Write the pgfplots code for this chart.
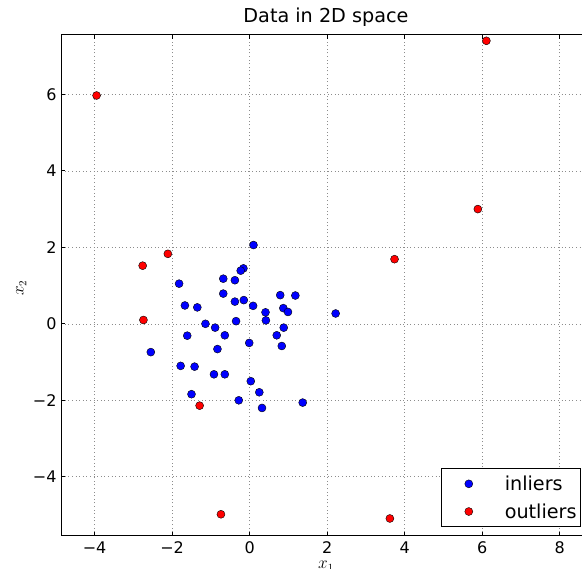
\documentclass[border=0pt]{standalone}
\usepackage{pgfplots}
\pgfplotsset{compat=1.18}
\usepackage{fontspec}
\setmainfont{DejaVu Sans}
\begin{document}
\begin{tikzpicture}
\begin{axis}[
  at={(61.3pt,33.3pt)}, anchor=south west,
  scale only axis, width=529.3pt, height=501pt,
  xmin=-4.86, xmax=8.80, ymin=-5.54, ymax=7.56,
  xtick={-4,-2,0,2,4,6,8}, xticklabels={−4,−2,0,2,4,6,8},
  ytick={-4,-2,0,2,4,6}, yticklabels={−4,−2,0,2,4,6},
  tick align=inside, major tick length=4pt,
  tick style={black, line width=0.8pt},
  axis line style={line width=1.2pt},
  grid=major,
  major grid style={black!45, line width=0.6pt, dash pattern=on 0.8pt off 2.8pt},
  ticklabel style={font=\fontsize{16}{16}\selectfont},
  xticklabel style={anchor=base, yshift=-18.3pt},
  yticklabel style={anchor=east, inner sep=0pt, text height=11.7pt, text depth=0pt, xshift=-4.6pt},
  title={Data in 2D space},
  title style={at={(0.5,1)}, anchor=base, yshift=6.4pt, font=\fontsize{19.2}{19.2}\selectfont},
  xlabel={$x_1$}, ylabel={$x_2$},
  xlabel style={at={(axis description cs:0.5,0)}, anchor=base, yshift=-33.3pt, font=\fontsize{16}{16}\selectfont},
  ylabel style={at={(axis description cs:-0.0756,0.494)}, anchor=center, font=\fontsize{16}{16}\selectfont},
  legend style={at={(0.982,0.0174)}, anchor=south east, draw=black, line width=0.9pt,
    inner xsep=4pt, inner ysep=5pt, row sep=7.7pt, fill=white,
    font=\fontsize{19.2}{19.2}\selectfont,
    nodes={inner sep=0pt, text height=16.5pt, text depth=3.5pt}},
  legend cell align=left,
  legend image code/.code={\path[draw=none, fill=none] (0pt,-10pt) rectangle (59pt,10pt); \draw[#1] plot coordinates {(23pt,0pt)};},
]
\addplot[only marks, mark=*, mark size=4pt, mark options={fill=blue, draw=black, line width=0.4pt}] coordinates {
(0.10,2.06) (-0.16,1.45) (-0.23,1.39) (-0.68,1.18) (-0.38,1.14)
(-1.82,1.05) (-0.68,0.79) (0.79,0.75) (1.18,0.74) (-1.67,0.48)
(-1.35,0.43) (-0.38,0.58) (-0.15,0.62) (0.09,0.47) (0.41,0.30)
(0.87,0.41) (0.99,0.31) (2.22,0.27) (0.42,0.09) (-0.35,0.07)
(-1.14,0.00) (-0.89,-0.10) (-0.64,-0.30) (0.88,-0.10) (0.70,-0.30)
(-1.61,-0.31) (-0.01,-0.50) (0.83,-0.58) (-0.83,-0.66) (-2.55,-0.74)
(-1.78,-1.10) (-1.42,-1.12) (-0.92,-1.32) (-0.64,-1.32) (0.03,-1.50)
(0.25,-1.79) (-1.50,-1.84) (-0.28,-2.00) (0.32,-2.20) (1.37,-2.06)
};
\addlegendentry{inliers}
\addplot[only marks, mark=*, mark size=4pt, mark options={fill=red, draw=black, line width=0.4pt}] coordinates {
(-3.95,5.97) (6.11,7.40) (5.89,3.00) (3.74,1.69) (-2.11,1.83)
(-2.76,1.52) (-2.74,0.10) (-1.29,-2.14) (-0.74,-4.98) (3.62,-5.09)
};
\addlegendentry{outliers}
\end{axis}
\pgfresetboundingbox
\path[use as bounding box] (0,0) rectangle (582pt,569pt);
\end{tikzpicture}
\end{document}
